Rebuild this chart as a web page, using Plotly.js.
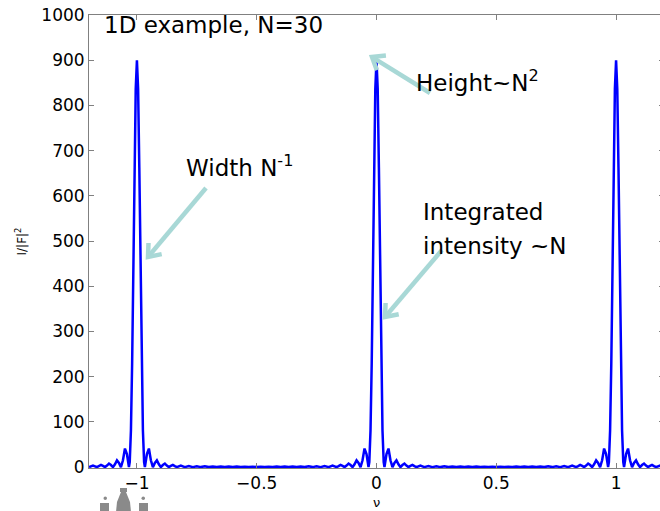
<!DOCTYPE html>
<html>
<head>
<meta charset="utf-8">
<script src="https://cdn.plot.ly/plotly-3.0.1.min.js"></script>
<style>
html,body{margin:0;padding:0;overflow:hidden;background:#fff;}
#chart{width:665px;height:511px;}
</style>
</head>
<body>
<div id="chart"></div>
<script>
// Frequency ν (x) and normalised intensity I/|F|^2 (y)
var nu = [
 -1.2,-1.1833,-1.1667,-1.1583,-1.15,-1.1417,-1.1333,-1.125,-1.1167,-1.1083,-1.1,-1.0917,-1.0833,-1.075,-1.0667,-1.0583,-1.05,-1.0417,-1.0333,-1.03,-1.025,-1.02,-1.015,-1.01,-1.005,-1,
 -0.995,-0.99,-0.985,-0.98,-0.975,-0.97,-0.9667,-0.9583,-0.95,-0.9417,-0.9333,-0.925,-0.9167,-0.9083,-0.9,-0.8917,-0.8833,-0.875,-0.8667,-0.8583,-0.85,-0.8417,-0.8333,-0.8167,-0.8,-0.7833,-0.7667,-0.75,-0.7333,-0.7167,-0.7,-0.6833,-0.6667,-0.65,-0.6333,-0.6167,-0.6,-0.5833,-0.5667,-0.55,-0.5333,-0.5167,-0.5,
 -0.4833,-0.4667,-0.45,-0.4333,-0.4167,-0.4,-0.3833,-0.3667,-0.35,-0.3333,-0.3167,-0.3,-0.2833,-0.2667,-0.25,-0.2333,-0.2167,-0.2,-0.1833,-0.1667,-0.1583,-0.15,-0.1417,-0.1333,-0.125,-0.1167,-0.1083,-0.1,-0.0917,-0.0833,-0.075,-0.0667,-0.0583,-0.05,-0.0417,-0.0333,-0.03,-0.025,-0.02,-0.015,-0.01,-0.005,0,
 0.005,0.01,0.015,0.02,0.025,0.03,0.0333,0.0417,0.05,0.0583,0.0667,0.075,0.0833,0.0917,0.1,0.1083,0.1167,0.125,0.1333,0.1417,0.15,0.1583,0.1667,0.1833,0.2,0.2167,0.2333,0.25,0.2667,0.2833,0.3,0.3167,0.3333,0.35,0.3667,0.3833,0.4,0.4167,0.4333,0.45,0.4667,0.4833,0.5,
 0.5167,0.5333,0.55,0.5667,0.5833,0.6,0.6167,0.6333,0.65,0.6667,0.6833,0.7,0.7167,0.7333,0.75,0.7667,0.7833,0.8,0.8167,0.8333,0.8417,0.85,0.8583,0.8667,0.875,0.8833,0.8917,0.9,0.9083,0.9167,0.925,0.9333,0.9417,0.95,0.9583,0.9667,0.97,0.975,0.98,0.985,0.99,0.995,1,
 1.005,1.01,1.015,1.02,1.025,1.03,1.0333,1.0417,1.05,1.0583,1.0667,1.075,1.0833,1.0917,1.1,1.1083,1.1167,1.125,1.1333,1.1417,1.15,1.1583,1.1667,1.1833,1.2
];
var intensity = [
 0,3.4,0,2.2,4.9,2.7,0,3.4,7.8,4.5,0,6.2,14.9,9.2,0,15,41,29,0,11,81,229,439,663,836,900,
 836,663,439,229,81,11,0,29,41,15,0,9.2,14.9,6.2,0,4.5,7.8,3.4,0,2.7,4.9,2.2,0,3.4,0,2.5,0,2.0,0,1.7,0,1.4,0,1.3,0,1.1,0,1.1,0,1.0,0,1.0,0,
 1.0,0,1.0,0,1.1,0,1.1,0,1.3,0,1.4,0,1.7,0,2.0,0,2.5,0,3.4,0,2.2,4.9,2.7,0,3.4,7.8,4.5,0,6.2,14.9,9.2,0,15,41,29,0,11,81,229,439,663,836,900,
 836,663,439,229,81,11,0,29,41,15,0,9.2,14.9,6.2,0,4.5,7.8,3.4,0,2.7,4.9,2.2,0,3.4,0,2.5,0,2.0,0,1.7,0,1.4,0,1.3,0,1.1,0,1.1,0,1.0,0,1.0,0,
 1.0,0,1.0,0,1.1,0,1.1,0,1.3,0,1.4,0,1.7,0,2.0,0,2.5,0,3.4,0,2.2,4.9,2.7,0,3.4,7.8,4.5,0,6.2,14.9,9.2,0,15,41,29,0,11,81,229,439,663,836,900,
 836,663,439,229,81,11,0,29,41,15,0,9.2,14.9,6.2,0,4.5,7.8,3.4,0,2.7,4.9,2.2,0,3.4,0
];
var xTickVals = [-1, -0.5, 0, 0.5, 1];
var xTickText = ['\u22121', '\u22120.5', '0', '0.5', '1'];
var yTickVals = [0, 100, 200, 300, 400, 500, 600, 700, 800, 900, 1000];

// plot-area geometry (pixels) used only to place decorations
var PL = 89, PR = 664, PT = 15, PB = 468;
function px(x) { return (x - PL) / (PR - PL); }
function py(y) { return (PB - y) / (PB - PT); }
function P(x, y) { return px(x).toFixed(5) + ',' + py(y).toFixed(5); }

var arrowCol = '#a8d8d6';
function arrowShapes(tx, ty, hx, hy) {
  var dx = tx - hx, dy = ty - hy, L = Math.sqrt(dx * dx + dy * dy);
  var ux = dx / L, uy = dy / L, a = 38 * Math.PI / 180, len = 14;
  function rot(s) {
    var c = Math.cos(s * a), si = Math.sin(s * a);
    return [hx + len * (ux * c - uy * si), hy + len * (ux * si + uy * c)];
  }
  var r1 = rot(1), r2 = rot(-1);
  return [
    {type: 'path', xref: 'paper', yref: 'paper', layer: 'above',
     path: 'M' + P(tx, ty) + 'L' + P(hx + ux * 2, hy + uy * 2),
     line: {color: arrowCol, width: 4.5}},
    {type: 'path', xref: 'paper', yref: 'paper', layer: 'above',
     path: 'M' + P(r1[0], r1[1]) + 'L' + P(hx, hy) + 'L' + P(r2[0], r2[1]),
     line: {color: arrowCol, width: 4.5}}
  ];
}

var shapes = [].concat(
  arrowShapes(430, 93, 372, 57),
  arrowShapes(206, 188, 148, 257),
  arrowShapes(442, 250, 385, 317)
);
// small grey logo fragment at the bottom-left edge of the picture
var grey = '#8a8a8a';
shapes.push(
  {type: 'rect', xref: 'paper', yref: 'paper', x0: px(100), x1: px(109), y0: py(503), y1: py(512), fillcolor: grey, line: {width: 0}},
  {type: 'rect', xref: 'paper', yref: 'paper', x0: px(139), x1: px(148), y0: py(503), y1: py(512), fillcolor: grey, line: {width: 0}},
  {type: 'circle', xref: 'paper', yref: 'paper', x0: px(103.5), x1: px(107), y0: py(500), y1: py(496.5), fillcolor: grey, line: {width: 0}},
  {type: 'circle', xref: 'paper', yref: 'paper', x0: px(141.5), x1: px(145), y0: py(500), y1: py(496.5), fillcolor: grey, line: {width: 0}},
  {type: 'rect', xref: 'paper', yref: 'paper', x0: px(120), x1: px(127), y0: py(492), y1: py(488), fillcolor: grey, line: {width: 0}},
  {type: 'path', xref: 'paper', yref: 'paper',
   path: 'M' + P(116, 512) + 'L' + P(117, 502) + 'L' + P(121, 492) + 'L' + P(126, 492) + 'L' + P(130, 502) + 'L' + P(131, 512) + 'Z',
   fillcolor: grey, line: {width: 0}}
);

var trace = {
  x: nu, y: intensity, type: 'scatter', mode: 'lines',
  line: {color: '#0000ff', width: 2.5}, hoverinfo: 'skip'
};

var axisGrey = '#808080';
var FAM = 'DejaVu Sans, Verdana, sans-serif';
var tickFont = {family: FAM, size: 17, color: '#000'};
var noteFont = {family: FAM, size: 23, color: '#000'};

var layout = {
  width: 665, height: 511,
  margin: {l: PL, r: 665 - PR, t: PT, b: 511 - PB},
  paper_bgcolor: '#fff', plot_bgcolor: '#fff',
  showlegend: false,
  xaxis: {
    range: [-1.2, 1.2], tickvals: xTickVals, ticktext: xTickText,
    showline: true, linecolor: axisGrey, linewidth: 1, mirror: 'ticks',
    ticks: 'inside', ticklen: 5, tickcolor: axisGrey,
    showgrid: false, zeroline: false, tickfont: tickFont
  },
  yaxis: {
    range: [-2, 1000], tickvals: yTickVals,
    showline: true, linecolor: axisGrey, linewidth: 1, mirror: 'ticks',
    ticks: 'inside', ticklen: 5, tickcolor: axisGrey,
    showgrid: false, zeroline: false, tickfont: tickFont,
    title: {text: 'I/|F|<sup>2</sup>', font: {family: FAM, size: 12, color: '#000'}, standoff: 12}
  },
  shapes: shapes,
  annotations: [
    {xref: 'paper', yref: 'paper', x: px(376.5), y: py(511), xanchor: 'center', yanchor: 'bottom',
     text: 'ν', showarrow: false, borderpad: 0, font: {family: FAM, size: 13, color: '#000'}},
    {xref: 'paper', yref: 'paper', x: px(102), y: py(25), xanchor: 'left', yanchor: 'middle',
     text: '1D example, N=30', showarrow: false, font: noteFont},
    {xref: 'paper', yref: 'paper', x: px(414), y: py(81), xanchor: 'left', yanchor: 'middle',
     text: 'Height~N<sup>2</sup>', showarrow: false, font: noteFont},
    {xref: 'paper', yref: 'paper', x: px(184), y: py(166), xanchor: 'left', yanchor: 'middle',
     text: 'Width N<sup>-1</sup>', showarrow: false, font: noteFont},
    {xref: 'paper', yref: 'paper', x: px(421), y: py(212), xanchor: 'left', yanchor: 'middle',
     text: 'Integrated', showarrow: false, font: noteFont},
    {xref: 'paper', yref: 'paper', x: px(421), y: py(246), xanchor: 'left', yanchor: 'middle',
     text: 'intensity ~N', showarrow: false, font: noteFont}
  ]
};

Plotly.newPlot('chart', [trace], layout, {displayModeBar: false, staticPlot: true});
</script>
</body>
</html>
